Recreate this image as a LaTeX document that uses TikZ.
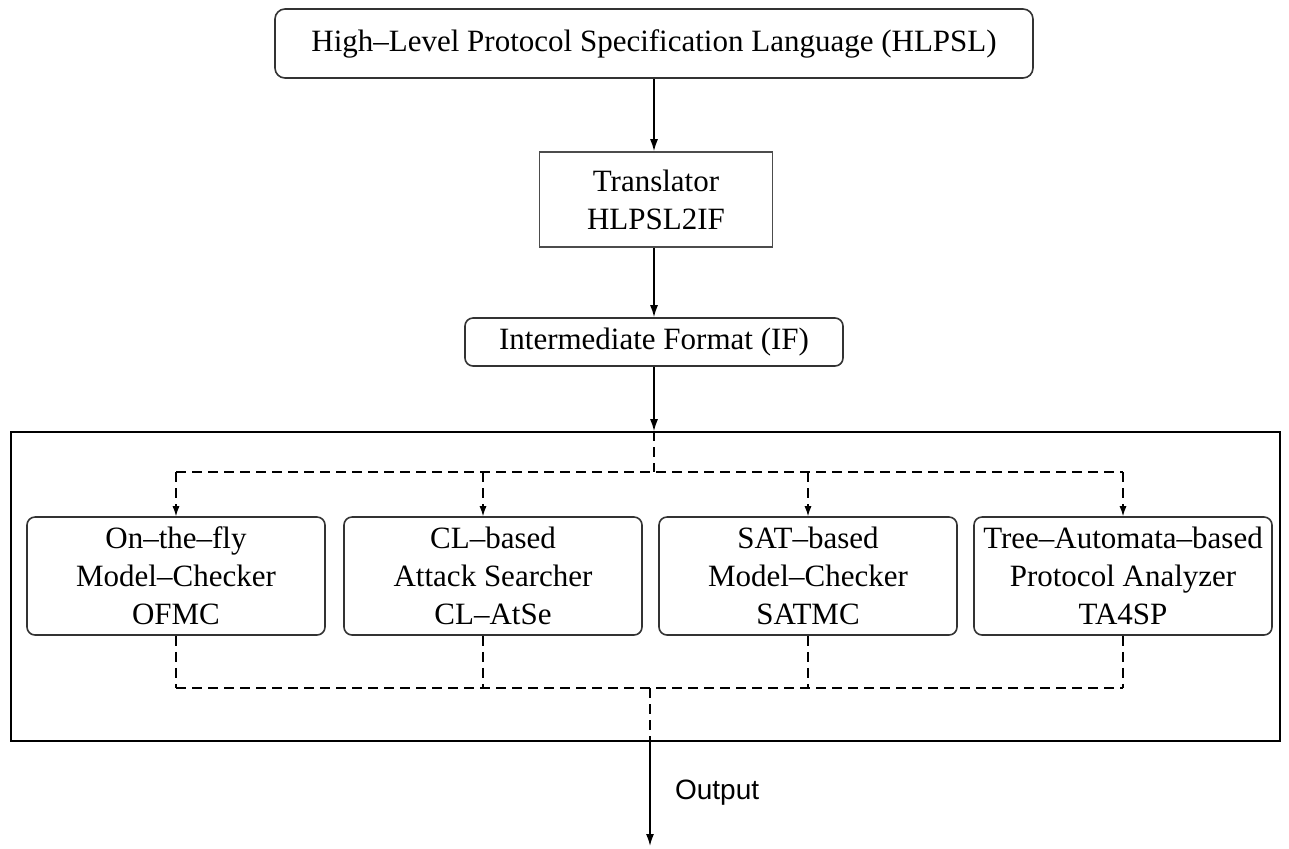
\documentclass[tikz,border=0pt]{standalone}
\usepackage{fontspec}
\setmainfont{Liberation Serif}
\setsansfont{Liberation Sans}
\usetikzlibrary{positioning, arrows.meta, calc}

\begin{document}
\begin{tikzpicture}[x=0.5pt, y=-0.5pt, font=\fontsize{15.5}{19}\selectfont,
    tool/.style={draw=black!80, line width=0.8pt, rounded corners=4pt,
                 minimum width=149pt, minimum height=59pt, align=center, inner sep=1pt},
    flow/.style={-{Latex[length=6pt,width=4pt]}, line width=0.8pt},
    dflow/.style={dash pattern=on 5pt off 3pt, line width=0.6pt},
    dtip/.style={-{Latex[length=5pt,width=3.5pt]}}]
  \useasboundingbox (0,0) rectangle (1289,848);

  \node[draw=black!80, line width=0.8pt, rounded corners=5pt, minimum width=379pt,
        minimum height=34.5pt] (hlpsl) at (654,43.5)
        {High--Level Protocol Specification Language (HLPSL)};
  \node[draw=black!70, line width=0.8pt, minimum width=116.5pt, minimum height=47.5pt,
        align=center] (trans) at (656,199.5) {Translator\\HLPSL2IF};
  \node[draw=black!80, line width=0.8pt, rounded corners=4pt, minimum width=189pt,
        minimum height=24pt] (if) at (654,342) {Intermediate Format (IF)};
  \node[draw, line width=0.8pt, minimum width=634.5pt, minimum height=154.5pt] (frame)
        at (645.5,586.5) {};

  % back-ends
  \node[tool] (ofmc)   at (176,576)  {On--the--fly\\Model--Checker\\OFMC};
  \node[tool] (clatse) at (493,576)  {CL--based\\Attack Searcher\\CL--AtSe};
  \node[tool] (satmc)  at (808,576)  {SAT--based\\Model--Checker\\SATMC};
  \node[tool] (ta4sp)  at (1123,576) {Tree--Automata--based\\Protocol Analyzer\\TA4SP};

  \coordinate (split) at (654,472);
  \coordinate (join) at (650,688);
  \coordinate (out) at (650,846);
  \coordinate (clin) at ([xshift=-5pt]clatse.north);
  \coordinate (clout) at ([xshift=-5pt]clatse.south);

  \draw[flow] (hlpsl.south) -- (hlpsl.south |- trans.north);
  \draw[flow] (hlpsl.south |- trans.south) -- (hlpsl.south |- if.north);
  \draw[flow] (if.south) -- (if.south |- frame.north);

  % dispatch to the tools
  \draw[dflow] (if.south |- frame.north) -- (split);
  \draw[dflow] (ofmc.north |- split) -- (ta4sp.north |- split);
  \foreach \t in {ofmc.north, clin, satmc.north, ta4sp.north}
    \draw[dflow, dtip] (\t |- split) -- (\t);

  % collect the results
  \draw[dflow] (ofmc.south |- join) -- (ta4sp.south |- join);
  \foreach \t in {ofmc.south, clout, satmc.south, ta4sp.south}
    \draw[dflow] (\t) -- (\t |- join);
  \draw[dflow] (join) -- (join |- frame.south);
  \draw[flow] (join |- frame.south) -- (out);

  \node[font=\sffamily\fontsize{14}{16}\selectfont, anchor=west] (outlbl) at (668,793) {Output};
\end{tikzpicture}
\end{document}
